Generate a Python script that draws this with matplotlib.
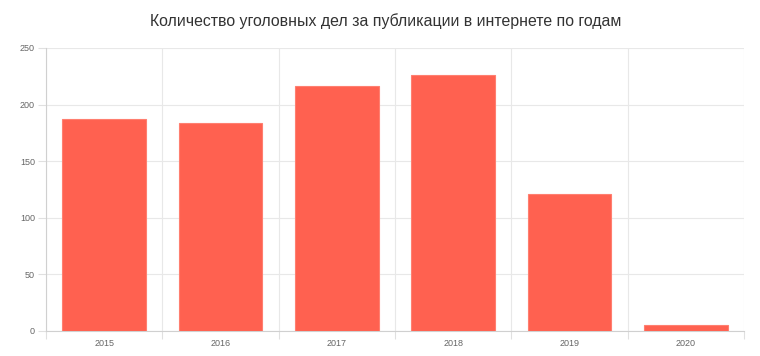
import numpy as np
import matplotlib.pyplot as plt

plt.rcParams['font.family'] = ['Liberation Sans', 'DejaVu Sans']

years = ['2015', '2016', '2017', '2018', '2019', '2020']
cases = [187, 184, 216, 226, 121, 5]

fig = plt.figure(figsize=(7.6, 3.56), dpi=100)
ax = fig.add_axes([46 / 760, 25 / 356, 698 / 760, 283 / 356])

x = np.arange(len(years))
ax.bar(x, cases, width=0.72, color='#ff6150', edgecolor='#ff7f70', linewidth=0.8, zorder=3)

ax.set_xlim(-0.5, len(years) - 0.5)
ax.set_ylim(0, 250)
ax.set_yticks(np.arange(0, 251, 50))
ax.set_xticks(x)
ax.set_xticklabels(years)
ax.set_xticks(np.arange(-0.5, len(years), 1), minor=True)

ax.grid(axis='y', color='#e8e8e8', linewidth=0.8, zorder=0)
ax.grid(axis='x', which='minor', color='#e8e8e8', linewidth=0.8, zorder=0)
ax.tick_params(axis='x', which='major', length=0, labelsize=6.5, labelcolor='#666666', pad=6)
ax.tick_params(axis='x', which='minor', length=6, color='#e0e0e0', width=0.8)
ax.tick_params(axis='y', length=6, color='#e0e0e0', width=0.8, labelsize=6.5, labelcolor='#666666', pad=2)

for side in ['top', 'right']:
    ax.spines[side].set_visible(False)
for side in ['left', 'bottom']:
    ax.spines[side].set_color('#d0d0d0')
    ax.spines[side].set_linewidth(0.8)

fig.text(386 / 760, 1 - 21 / 356, 'Количество уголовных дел за публикации в интернете по годам',
         ha='center', va='center', fontsize=11.4, color='#333333')

fig.savefig('out.png', dpi=100)
